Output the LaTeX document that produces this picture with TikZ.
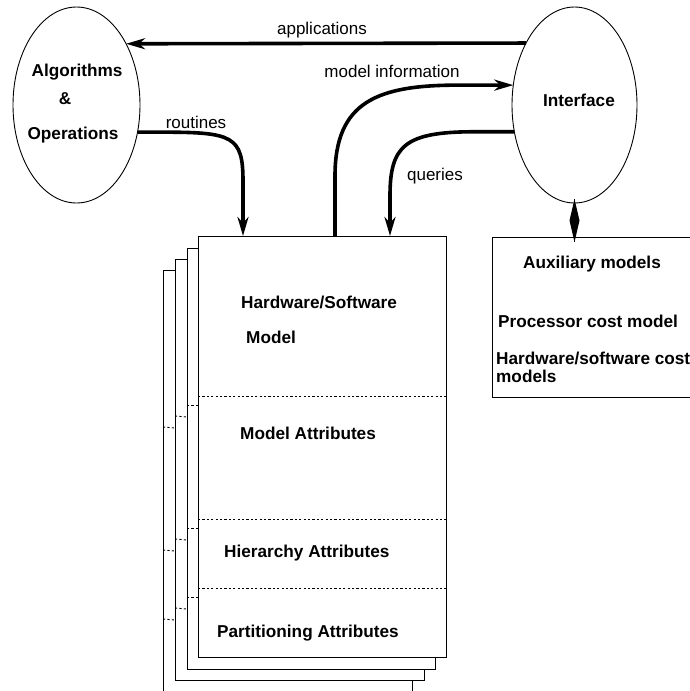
\documentclass[tikz,border=0pt]{standalone}
\usepackage{fontspec}
\setmainfont{Liberation Sans}
\usetikzlibrary{shapes.geometric,arrows.meta,calc}

\tikzset{
  thin line/.style={line width=0.9pt},
  sheet/.style={draw, thin line, fill=white, rectangle, inner sep=0, outer sep=0, anchor=north west},
  bubble/.style={draw, thin line, ellipse, inner sep=0, outer sep=0},
  flow/.style={line width=3.6pt, -{Stealth[length=19pt,width=11pt,inset=6pt]}},
  link/.style={thin line},
  divider/.style={thin line, dash pattern=on 2.2pt off 2.2pt},
  lbl/.style={inner sep=0, font=\fontsize{17}{20}\selectfont},
  blbl/.style={inner sep=0, font=\fontsize{17.2}{20}\selectfont\bfseries},
}

\begin{document}
\begin{tikzpicture}[x=1pt, y=-1pt]
\useasboundingbox (0,0) rectangle (690,691);
\clip (0,0) rectangle (690,691);

% stacked model sheets, back to front
\node[sheet, minimum width=249, minimum height=460] (l4) at (163,270) {};
\node[sheet, minimum width=249, minimum height=421] (l3) at (175,259) {};
\node[sheet, minimum width=248, minimum height=421] (l2) at (187,248) {};
\node[sheet, minimum width=248, minimum height=421] (l1) at (198,236) {};

% section dividers on the front sheet
\foreach \y in {160,283,352} {
  \draw[divider] ($(l1.north west)+(0,\y)$) -- ($(l1.north east)+(2,\y)$);
}
% divider stubs visible on the sheets behind
\foreach \y in {160,283,352} {
  \draw[divider] ($(l2.north west)+(0,\y+-3)$) -- ($(l1.north west)+(0,\y+9)$);
  \draw[divider] ($(l3.north west)+(0,\y+-3)$) -- ($(l2.north west)+(0,\y+9)$);
  \draw[divider] ($(l4.north west)+(0,\y+-3)$) -- ($(l3.north west)+(0,\y+9)$);
}

% texts of the front sheet
\node[blbl, anchor=base west] (hw) at (241,308) {Hardware/Software};
\node[blbl, anchor=base west] (hwm) at (246,343) {Model};
\node[blbl, anchor=base west] (ma) at (240,439) {Model Attributes};
\node[blbl, anchor=base west] (ha) at (224,557) {Hierarchy Attributes};
\node[blbl, anchor=base west] (pa) at (217,637) {Partitioning Attributes};

% auxiliary models box
\node[sheet, minimum width=268, minimum height=160] (aux) at (492,237) {};
\node[blbl, anchor=base west] (auxt) at (523,268) {Auxiliary models};
\node[blbl, anchor=base west] (pcm) at (498,327) {Processor cost model};
\node[blbl, anchor=base west] (hsc) at (496,364) {Hardware/software cost};
\node[blbl, anchor=base west] (hscm) at (496,382) {models};

% the two bubbles
\node[bubble, minimum width=127, minimum height=196] (alg) at (76.5,105) {};
\node[blbl, anchor=base] at (77,76) {Algorithms};
\node[blbl, anchor=base] at (65,104) {\&};
\node[blbl, anchor=base] at (73,139) {Operations};

\node[bubble, minimum width=125, minimum height=196] (iface) at (574.5,105) {};
\node[blbl, anchor=base] at (579,106) {Interface};

% arrow ends on the top of the front sheet
\coordinate (rin) at ($(l1.north west)+(45,0)$);
\coordinate (min) at ($(l1.north west)+(137,0)$);
\coordinate (qin) at ($(l1.north west)+(192,0)$);

% connectors
\draw[flow] (iface.128) -- (alg.51.6);
\node[lbl, anchor=base] at (322,34) {applications};

\draw[flow] (alg.-24.7) -- ++(25,0)
  .. controls +(70,0) and +(0,-45) .. ($(rin)+(0,-55)$) -- (rin);
\node[lbl, anchor=base] at (196,128) {routines};

\draw[flow] (min) -- ++(0,-60)
  .. controls +(0,-75) and +(-80,0) .. ($(iface.162.8)+(-55,0)$) -- (iface.162.8);
\node[lbl, anchor=base] at (392,77) {model information};

\draw[flow] (iface.204.2) -- ++(-40,0)
  .. controls +(-70,0) and +(0,-50) .. ($(qin)+(0,-40)$) -- (qin);
\node[lbl, anchor=base] at (435,180) {queries};

% two-way link between interface and auxiliary models: a filled kite
\coordinate (lt) at ($(iface.south)+(0,-4)$);
\coordinate (lb) at ($(iface.south |- aux.north)+(0,5)$);
\draw[link] (lt) -- (lb);
\fill (lt) -- ($(lt)!0.5!(lb)+(5,0)$) -- (lb) -- ($(lt)!0.5!(lb)+(-5,0)$) -- cycle;

\end{tikzpicture}
\end{document}
